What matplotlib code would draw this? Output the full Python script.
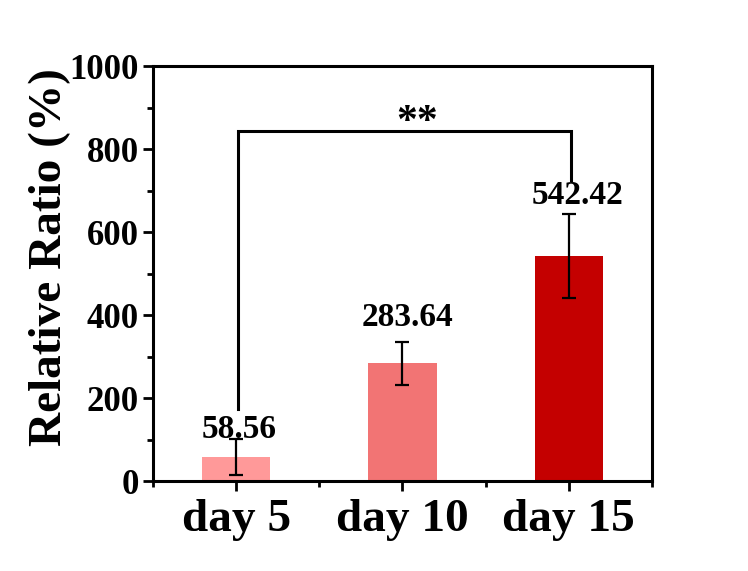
import matplotlib
matplotlib.use("Agg")
import matplotlib.pyplot as plt
from matplotlib.ticker import MultipleLocator, FixedLocator

categories = ["day 5", "day 10", "day 15"]
means = [58.56, 283.64, 542.42]
errors = [43, 52, 101]
bar_colors = ["#FF9999", "#F27474", "#C40000"]
label_y = [123, 393, 689]
label_x_offset = [0.02, 0.03, 0.05]

plt.rcParams["font.family"] = ["Liberation Serif", "DejaVu Serif"]
plt.rcParams["font.weight"] = "bold"

fig = plt.figure(figsize=(7.48, 5.71), dpi=100)
ax = fig.add_axes([0.2045, 0.1576, 0.6672, 0.7268])

x = [1, 2, 3]
ax.bar(x, means, width=0.41, color=bar_colors, zorder=1)
ax.errorbar(x, means, yerr=errors, fmt="none", ecolor="black",
            elinewidth=1.6, capsize=5, capthick=1.6, zorder=2)

for xi, yi, v, dx in zip(x, label_y, means, label_x_offset):
    ax.text(xi + dx, yi, f"{v:.2f}", ha="center", va="center",
            fontsize=24, fontweight="bold")

# significance bracket between day 5 and day 15
ax.plot([1.01, 1.01, 3.01, 3.01], [173, 843, 843, 725], color="black",
        lw=2.2, solid_joinstyle="miter", zorder=3)
ax.text(2.09, 862, "**", ha="center", va="center", fontsize=30,
        fontweight="bold")

ax.set_xlim(0.5, 3.5)
ax.set_ylim(0, 1000)
ax.set_xticks(x)
ax.set_xticklabels(categories)
ax.xaxis.set_minor_locator(FixedLocator([0.5, 1.5, 2.5, 3.5]))
ax.yaxis.set_major_locator(MultipleLocator(200))
ax.yaxis.set_minor_locator(MultipleLocator(100))

ax.tick_params(axis="both", which="major", direction="out", length=7,
               width=2, top=False, right=False)
ax.tick_params(axis="both", which="minor", direction="out", length=4,
               width=2, top=False, right=False)
ax.tick_params(axis="x", labelsize=34, pad=6)
ax.tick_params(axis="y", labelsize=25, pad=3)
for lab in ax.get_xticklabels() + ax.get_yticklabels():
    lab.set_fontweight("bold")

for sp in ax.spines.values():
    sp.set_linewidth(2.2)

ax.set_ylabel("Relative Ratio (%)", fontsize=34, fontweight="bold")
ax.yaxis.set_label_coords(-0.165, 0.54)

fig.savefig("out.png", dpi=100)
